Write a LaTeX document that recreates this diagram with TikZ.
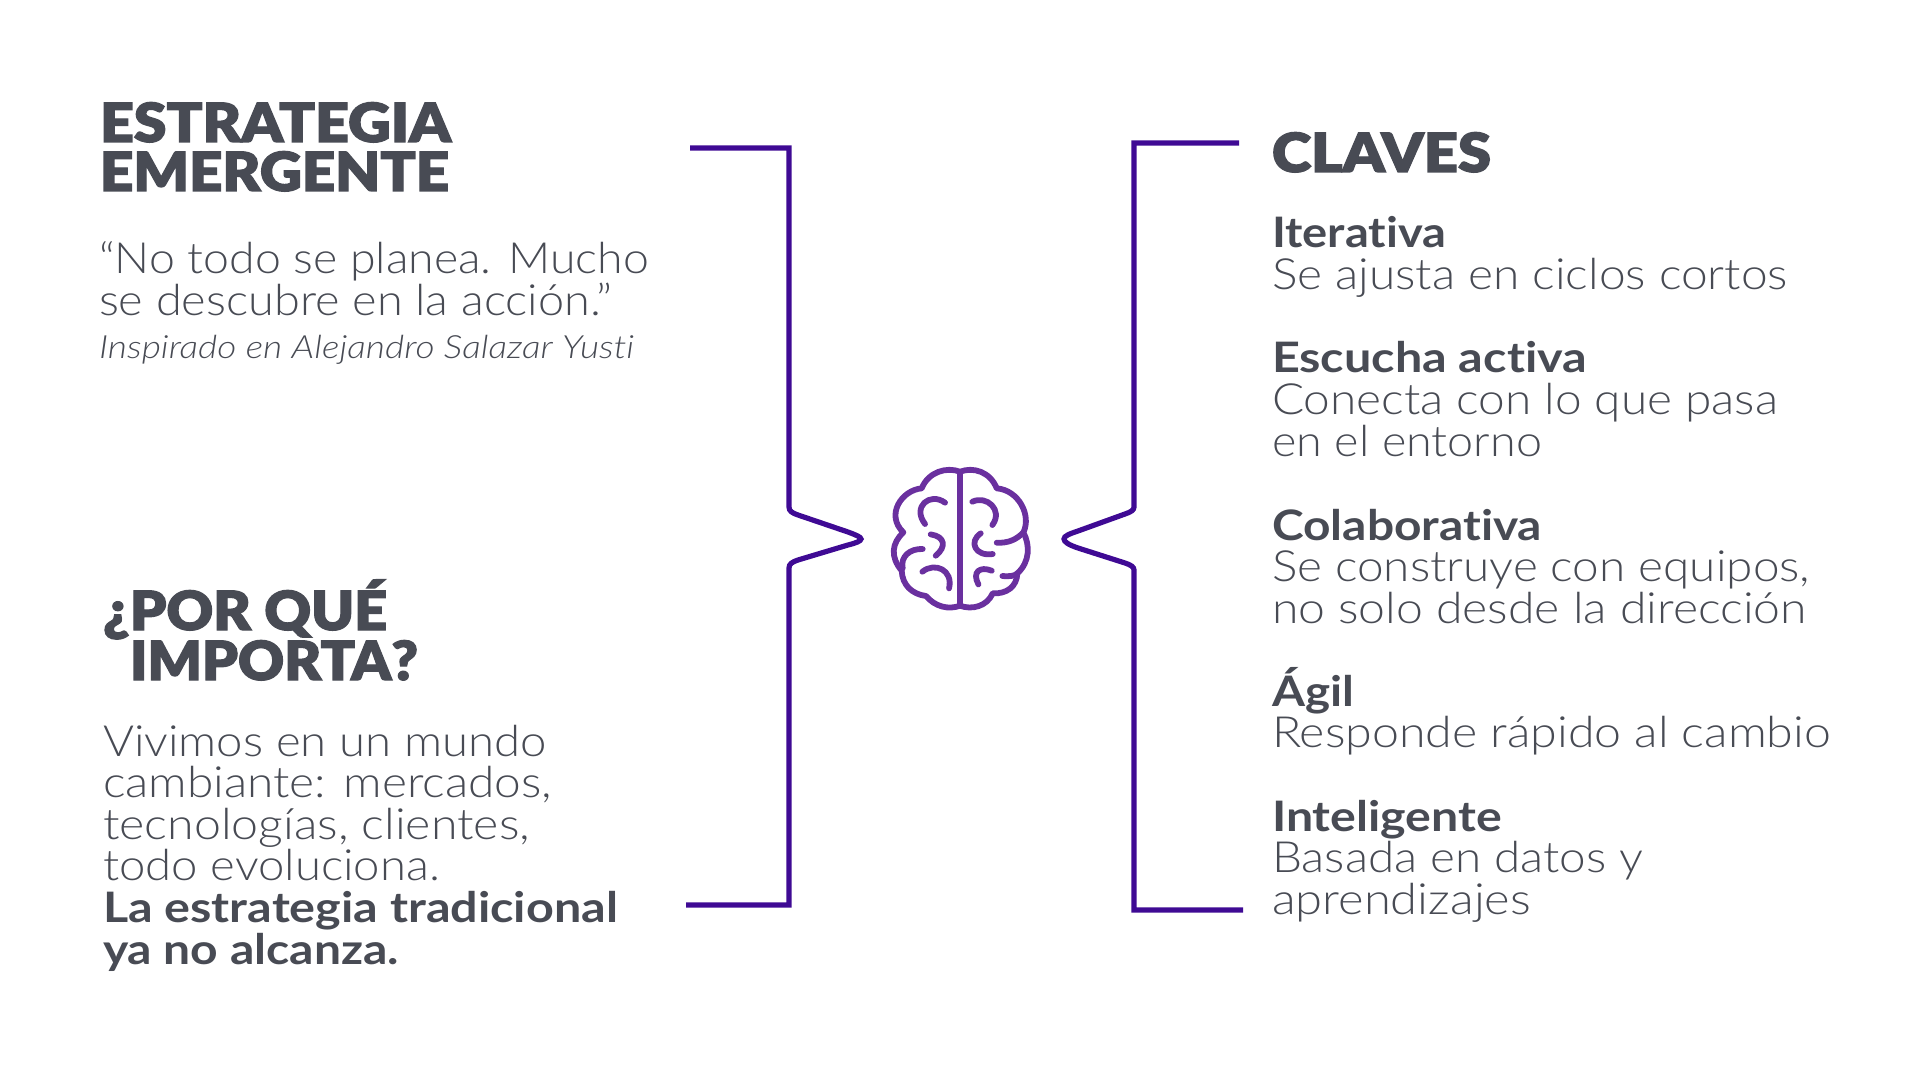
\documentclass[tikz,border=0pt]{standalone}
\usepackage{graphicx}
\usepackage{fontspec}
\setmainfont[RawFeature={-liga;-dlig}]{Lato}
\newfontfamily\ltf[RawFeature={-liga;-dlig}]{Lato Light}
\newfontfamily\blk[FakeBold=2.2,RawFeature={-liga;-dlig}]{Lato Black}
\definecolor{txt}{HTML}{484B54}
\definecolor{brk}{HTML}{3F0A94}
\definecolor{brn}{HTML}{6A309F}
\newcommand{\tline}[6]{\node[tl] (#1) at (#2,#3) {\resizebox{\dimexpr(#4pt-#2pt)/2\relax}{\height}{#5#6}};}
\newcommand{\ftitle}{\fontsize{27}{27}\selectfont\blk}
\newcommand{\fhead}{\fontsize{21}{21}\selectfont\bfseries}
\newcommand{\fbody}{\fontsize{21.5}{21.5}\selectfont\ltf}
\newcommand{\fcred}{\fontsize{16}{16}\selectfont\ltf\itshape}
\tikzset{
  tl/.style={anchor=base west,inner sep=0pt,outer sep=0pt,text=txt},
  bracket/.style={draw=brk,line width=2.6pt,line join=miter},
  brainline/.style={draw=brn,line width=2.9pt,line cap=round,line join=round}
}
\begin{document}
\begin{tikzpicture}[x=0.5pt,y=-0.5pt]
\useasboundingbox (0,0) rectangle (1920,1080);
\tline{t1}{100}{142}{451}{\ftitle}{ESTRATEGIA}
\tline{t2}{100}{191}{449}{\ftitle}{EMERGENTE}
\tline{q1}{99}{274}{649}{\fbody}{“No todo se planea. Mucho}
\tline{q2}{99}{316}{612}{\fbody}{se descubre en la acción.”}
\tline{q3}{99}{359}{634}{\fcred}{Inspirado en Alejandro Salazar Yusti}
\tline{p1}{103}{630}{387}{\ftitle}{¿POR QUÉ}
\tline{p2}{130}{680}{418}{\ftitle}{IMPORTA?}
\tline{v1}{103}{756}{547}{\fbody}{Vivimos en un mundo}
\tline{v2}{103}{797}{552}{\fbody}{cambiante: mercados,}
\tline{v3}{103}{839}{530}{\fbody}{tecnologías, clientes,}
\tline{v4}{103}{880}{440}{\fbody}{todo evoluciona.}
\tline{v5}{103}{922}{618}{\fhead}{La estrategia tradicional}
\tline{v6}{103}{964}{399}{\fhead}{ya no alcanza.}
\tline{c0}{1272}{172}{1491}{\ftitle}{CLAVES}
\tline{c1}{1272}{248}{1446}{\fhead}{Iterativa}
\tline{c1a}{1272}{290}{1788}{\fbody}{Se ajusta en ciclos cortos}
\tline{c2}{1272}{373}{1587}{\fhead}{Escucha activa}
\tline{c2a}{1272}{415}{1778}{\fbody}{Conecta con lo que pasa}
\tline{c2b}{1272}{456}{1542}{\fbody}{en el entorno}
\tline{c3}{1272}{540}{1542}{\fhead}{Colaborativa}
\tline{c3a}{1272}{581}{1810}{\fbody}{Se construye con equipos,}
\tline{c3b}{1272}{623}{1807}{\fbody}{no solo desde la dirección}
\tline{c4}{1272}{706}{1354}{\fhead}{Ágil}
\tline{c4a}{1272}{747}{1831}{\fbody}{Responde rápido al cambio}
\tline{c5}{1272}{831}{1502}{\fhead}{Inteligente}
\tline{c5a}{1272}{872}{1643}{\fbody}{Basada en datos y}
\tline{c5b}{1272}{914}{1531}{\fbody}{aprendizajes}
% brackets
\draw[bracket] (690,148) -- (789,148) -- (789,507)
  .. controls (789,511) and (792,513) .. (798,515)
  -- (848,532)
  .. controls (856,535) and (861,537) .. (861,539)
  .. controls (861,541) and (856,543) .. (848,545)
  -- (798,560)
  .. controls (792,562) and (789,564) .. (789,568)
  -- (789,905) -- (686,905);
\draw[bracket] (1239,143) -- (1134,143) -- (1134,507)
  .. controls (1134,510) and (1131,512) .. (1125,514)
  -- (1078,531)
  .. controls (1069,534) and (1064,536) .. (1064,539)
  .. controls (1064,542) and (1069,545) .. (1078,548)
  -- (1125,563)
  .. controls (1131,565) and (1134,567) .. (1134,570)
  -- (1134,910) -- (1243,910);
% brain
\begin{scope}[shift={(770,440)},x=0.1667pt,y=-0.1667pt]
\draw[brainline] (570,95) .. controls (530,80) and (475,95) .. (455,145)
  .. controls (395,150) and (345,225) .. (400,277)
  .. controls (365,310) and (360,350) .. (395,392)
  .. controls (397,435) and (425,462) .. (468,468)
  .. controls (495,500) and (535,510) .. (570,497)
  .. controls (605,510) and (650,500) .. (668,460)
  .. controls (710,462) and (740,440) .. (742,400)
  .. controls (780,365) and (780,315) .. (760,277)
  .. controls (785,225) and (745,150) .. (680,145)
  .. controls (660,95) and (610,80) .. (570,95) -- (570,497);
\draw[brainline] (525,188) .. controls (480,155) and (425,200) .. (465,252);
\draw[brainline] (482,283) .. controls (525,290) and (530,320) .. (497,347);
\draw[brainline] (458,327) .. controls (420,325) and (390,350) .. (398,385);
\draw[brainline] (457,395) .. controls (495,365) and (550,390) .. (537,445);
\draw[brainline] (607,185) .. controls (650,165) and (700,210) .. (667,255);
\draw[brainline] (632,280) .. controls (595,305) and (615,350) .. (668,342);
\draw[brainline] (680,308) .. controls (715,310) and (740,298) .. (760,277);
\draw[brainline] (697,408) .. controls (715,410) and (735,408) .. (742,400);
\draw[brainline] (625,433) .. controls (605,395) and (630,378) .. (665,392);
\end{scope}
\end{tikzpicture}
\end{document}
